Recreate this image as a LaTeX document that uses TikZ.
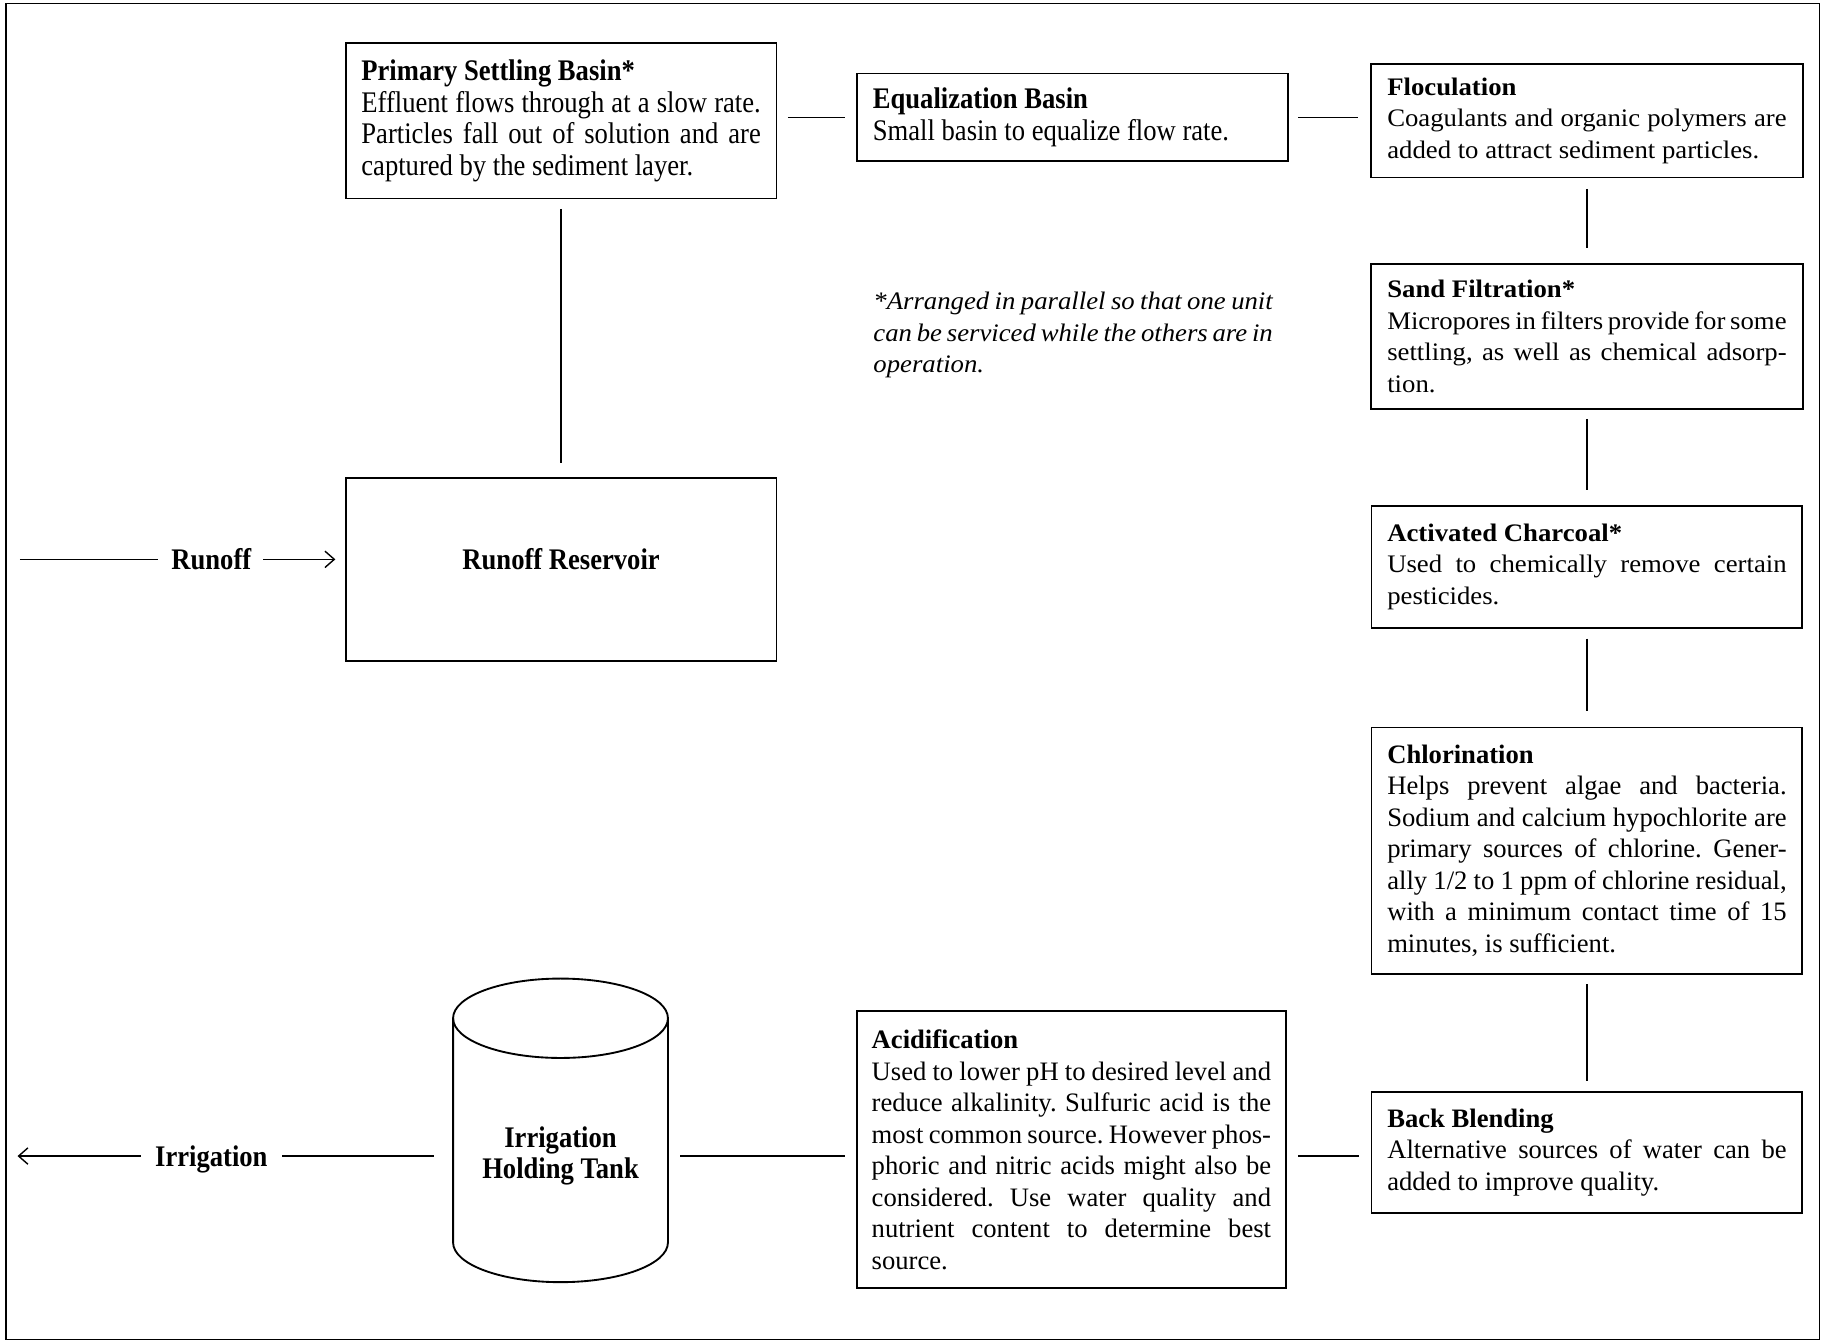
\documentclass[tikz,border=0pt]{standalone}
\usepackage{fontspec}
\setmainfont{Liberation Serif}
\newfontfamily\condfam[FakeStretch=0.89]{Liberation Serif}
\newfontfamily\widefam[FakeStretch=1.06]{Liberation Serif}
\usetikzlibrary{arrows.meta}
\frenchspacing
\newcommand\fcond{\condfam\fontsize{12.8}{13.5}\selectfont}
\newcommand\fnorm{\fontsize{11.4}{13.5}\selectfont}
\newcommand\fwide{\widefam\fontsize{10.8}{13.5}\selectfont}
\newcommand\JL[1]{\hbox to\hsize{#1}}
\newcommand\LL[1]{\hbox to\hsize{#1\hfil}}
\newcommand\blk[1]{\vbox{\hsize=171pt #1}}
\tikzset{
  box/.style={draw, line width=0.8pt, rectangle, minimum width=184.5pt, inner xsep=0pt, inner ysep=2pt},
  conn/.style={line width=0.6pt},
  lab/.style={inner sep=0pt, text depth=0pt, font=\fcond\bfseries},
  tip/.style={-{Straight Barb[length=4pt,width=7pt]}},
}
\begin{document}
\begin{tikzpicture}[x=0.5pt, y=-0.5pt]
\useasboundingbox (0,0) rectangle (1568,1149);
\draw[line width=0.6pt] (5,3) rectangle (1558,1147);

% boxes
\node[box, minimum height=66.5pt, font=\fcond] (psb) at (480.5,103.5) {\blk{%
 \LL{\bfseries Primary Settling Basin*}
 \JL{Effluent flows through at a slow rate.}
 \JL{Particles fall out of solution and are}
 \LL{captured by the sediment layer.}}};

\node[box, minimum height=37.5pt, font=\fcond] (eq) at (918.5,100.5) {\blk{%
 \LL{\bfseries Equalization Basin}
 \LL{Small basin to equalize flow rate.}}};

\node[box, minimum width=185pt, minimum height=48.5pt, font=\fwide] (floc) at (1359,103.5) {\blk{%
 \LL{\bfseries Floculation}
 \JL{Coagulants and organic polymers are}
 \LL{added to attract sediment particles.}}};

\node[box, minimum width=185pt, minimum height=62pt, font=\fwide] (sand) at (1359,288) {\blk{%
 \LL{\bfseries Sand Filtration*}
 \JL{Micropores in filters provide for some}
 \JL{settling, as well as chemical adsorp-}
 \LL{tion.}}};

\node[box, minimum height=52.5pt, font=\fwide] (act) at (1359,485.5) {\blk{%
 \LL{\bfseries Activated Charcoal*}
 \JL{Used to chemically remove certain}
 \LL{pesticides.}}};

\node[box, minimum height=105.5pt, font=\fnorm] (chlor) at (1359,728.5) {\blk{%
 \LL{\bfseries Chlorination}
 \JL{Helps prevent algae and bacteria.}
 \JL{Sodium and calcium hypochlorite are}
 \JL{primary sources of chlorine. Gener-}
 \JL{ally 1/2 to 1 ppm of chlorine residual,}
 \JL{with a minimum contact time of 15}
 \LL{minutes, is sufficient.}}};

\node[box, minimum height=52pt, font=\fnorm] (back) at (1359,987) {\blk{%
 \LL{\bfseries Back Blending}
 \JL{Alternative sources of water can be}
 \LL{added to improve quality.}}};

\node[box, minimum width=183.5pt, minimum height=118.5pt, font=\fnorm] (acid) at (917.5,984.5) {\blk{%
 \LL{\bfseries Acidification}
 \JL{Used to lower pH to desired level and}
 \JL{reduce alkalinity. Sulfuric acid is the}
 \JL{most common source. However phos-}
 \JL{phoric and nitric acids might also be}
 \JL{considered. Use water quality and}
 \JL{nutrient content to determine best}
 \LL{source.}}};

\node[box, minimum height=78.5pt, text height=0pt, text depth=0pt, font=\fcond\bfseries] (res) at (480.5,487.5) {Runoff Reservoir};

% note
\node[inner sep=0pt, font=\fwide\itshape] (note) at (919,287) {\blk{%
 \JL{*Arranged in parallel so that one unit}
 \JL{can be serviced while the others are in}
 \LL{operation.}}};

% holding tank
\draw[line width=0.8pt] (388,872) -- (388,1064)
  arc[start angle=180, end angle=360, x radius=46pt, y radius=17pt] -- (572,872);
\draw[line width=0.8pt] (480,872) ellipse [x radius=46pt, y radius=17pt];
\node[inner sep=0pt, align=center, minimum width=92pt, font=\fcond\bfseries] (tank) at (480,990) {Irrigation\\Holding Tank};

% labels
\node[lab] (rlab) at (181,479) {Runoff};
\coordinate (runin) at (17,479);
\node[lab] (irr) at (181,990) {Irrigation};
\coordinate (irrout) at (15,990);

% connectors
\draw[conn, shorten >=5.5pt] (runin) -- (rlab.west);
\draw[conn, tip, shorten <=5pt, shorten >=4pt] (rlab.east) -- (rlab.east -| res.west);
\draw[conn, shorten <=4pt, shorten >=6pt] (psb) -- (res);
\draw[conn, shorten <=4.5pt, shorten >=5pt] (psb.east |- eq.west) -- (eq.west);
\draw[conn, shorten <=4pt, shorten >=5pt] (eq.east) -- (eq.east -| floc.west);
\draw[conn, shorten <=4.5pt, shorten >=6.5pt] (floc) -- (sand);
\draw[conn, shorten <=4pt, shorten >=6.5pt] (sand) -- (act);
\draw[conn, shorten <=4pt, shorten >=6.5pt] (act) -- (chlor);
\draw[conn, shorten <=4pt, shorten >=4.25pt] (chlor) -- (back);
\draw[conn, shorten <=5pt, shorten >=5pt] (back.west |- tank) -- (acid.east |- tank);
\draw[conn, shorten <=5pt, shorten >=5pt] (acid.west |- tank) -- (tank.east);
\draw[conn, shorten <=8pt, shorten >=6pt] (tank.west) -- (irr.east);
\draw[conn, tip, shorten <=6pt] (irr.west) -- (irrout);
\end{tikzpicture}
\end{document}
